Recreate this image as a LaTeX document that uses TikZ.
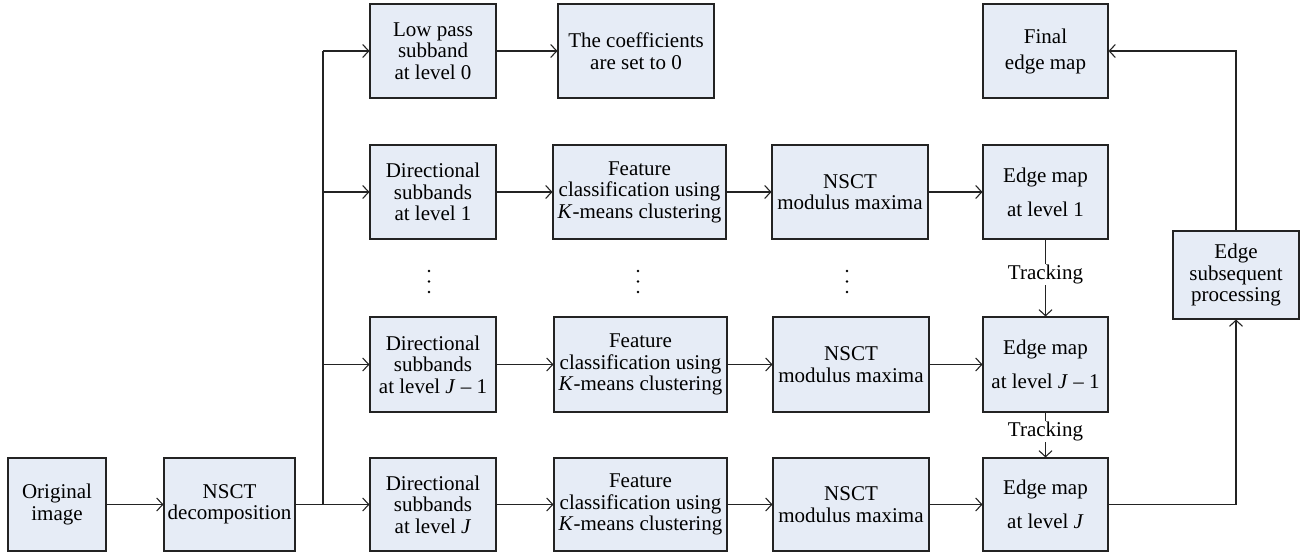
\documentclass[tikz,border=0pt]{standalone}
\usepackage{fontspec}
\setmainfont{Liberation Serif}
\usetikzlibrary{arrows.meta}
\definecolor{boxfill}{RGB}{230,236,246}
\definecolor{boxline}{RGB}{35,35,35}
\begin{document}
\begin{tikzpicture}[x=1pt,y=-1pt,
  box/.style={draw=boxline, fill=boxfill, line width=1.1pt, align=center, inner sep=0pt,
    font=\fontsize{21}{21.5}\selectfont},
  edgebox/.style={box, font=\fontsize{21}{34}\selectfont},
  conn/.style={line width=1.1pt, draw=boxline, -{Straight Barb[length=6pt,width=13pt,line width=1.1pt]}},
  plainline/.style={line width=1.1pt, draw=boxline},
  lbl/.style={fill=white, inner sep=1pt, font=\fontsize{21}{21.5}\selectfont},
  dotmark/.style={circle, fill=black, inner sep=0pt, minimum size=2.6pt}]
\useasboundingbox (0,0) rectangle (1308,556);
% left
\node[box, minimum width=98pt, minimum height=93pt] (orig) at (57,504.5) {Original\\image};
\node[box, minimum width=131pt, minimum height=93pt] (nsct) at (229.5,504.5) {NSCT\\decomposition};
% top row
\node[box, minimum width=126pt, minimum height=94pt] (low) at (433,51) {Low pass\\subband\\at level 0};
\node[box, minimum width=156pt, minimum height=94pt] (coef) at (636,51) {The coefficients\\are set to 0};
\node[box, minimum width=125pt, minimum height=94pt, font=\fontsize{21}{26}\selectfont] (final) at (1045.5,51) {Final\\edge map};
% row 1
\node[box, minimum width=126pt, minimum height=94pt] (dir1) at (433,192) {Directional\\subbands\\at level 1};
\node[box, minimum width=173pt, minimum height=94pt] (feat1) at (639.5,192) {Feature\\classification using\\\textit{K}-means clustering};
\node[box, minimum width=156pt, minimum height=94pt] (mod1) at (850,192) {NSCT\\modulus maxima};
\node[edgebox, minimum width=125pt, minimum height=94pt] (edge1) at (1045.5,192) {Edge map\\at level 1};
% row J-1
\node[box, minimum width=126pt, minimum height=95pt] (dirJ1) at (433,364.5) {Directional\\subbands\\at level \textit{J} – 1};
\node[box, minimum width=173pt, minimum height=95pt] (featJ1) at (640.5,364.5) {Feature\\classification using\\\textit{K}-means clustering};
\node[box, minimum width=156pt, minimum height=95pt] (modJ1) at (851,364.5) {NSCT\\modulus maxima};
\node[edgebox, minimum width=125pt, minimum height=95pt] (edgeJ1) at (1045.5,364.5) {Edge map\\at level \textit{J} – 1};
% row J
\node[box, minimum width=126pt, minimum height=93pt] (dirJ) at (433,504.5) {Directional\\subbands\\at level \textit{J}};
\node[box, minimum width=173pt, minimum height=93pt] (featJ) at (640.5,504.5) {Feature\\classification using\\\textit{K}-means clustering};
\node[box, minimum width=156pt, minimum height=93pt] (modJ) at (851,504.5) {NSCT\\modulus maxima};
\node[edgebox, minimum width=125pt, minimum height=93pt] (edgeJ) at (1045.5,504.5) {Edge map\\at level \textit{J}};
% post-processing
\node[box, minimum width=126pt, minimum height=88pt] (sub) at (1236,275) {Edge\\subsequent\\processing};
% dots
\foreach \x/\n in {429/a,638/b,847/c}{
  \node[dotmark] (d\n1) at (\x,271) {};
  \node[dotmark] (d\n2) at (\x,281.5) {};
  \node[dotmark] (d\n3) at (\x,292) {};
}
% connectors
\coordinate (br) at (323,504.5);
\draw[conn] (orig) -- (nsct);
\draw[plainline] (nsct.east) -- (br);
\draw[plainline] (br) -- (br |- low.west);
\draw[conn] (br |- low.west) -- (low.west);
\draw[conn] (br |- dir1.west) -- (dir1.west);
\draw[conn] (br |- dirJ1.west) -- (dirJ1.west);
\draw[conn] (br) -- (dirJ.west);
\draw[conn] (low) -- (coef);
\draw[conn] (dir1) -- (feat1);
\draw[conn] (feat1) -- (mod1);
\draw[conn] (mod1) -- (edge1);
\draw[conn] (dirJ1) -- (featJ1);
\draw[conn] (featJ1) -- (modJ1);
\draw[conn] (modJ1) -- (edgeJ1);
\draw[conn] (dirJ) -- (featJ);
\draw[conn] (featJ) -- (modJ);
\draw[conn] (modJ) -- (edgeJ);
\draw[conn] (edge1) -- node[lbl, pos=0.45] {Tracking} (edgeJ1);
\draw[conn] (edgeJ1) -- node[lbl, pos=0.42] {Tracking} (edgeJ);
\draw[conn] (edgeJ.east) -| (sub.south);
\draw[conn] (sub.north) |- (final.east);
\end{tikzpicture}
\end{document}
